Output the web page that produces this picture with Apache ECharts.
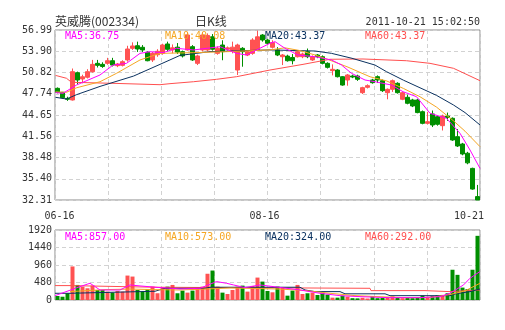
<!DOCTYPE html>
<html><head><meta charset="utf-8">
<script src="https://cdn.jsdelivr.net/npm/echarts@6/dist/echarts.min.js"></script>
<style>html,body{margin:0;padding:0;background:#fff}#c{width:505px;height:330px}</style>
</head><body><div id="c"></div><script>
const dates = ['06-16','06-17','06-20','06-21','06-22','06-23','06-24','06-27','06-28','06-29','06-30',
'07-04','07-05','07-06','07-07','07-08','07-11','07-12','07-13','07-14','07-15','07-18','07-19','07-20','07-21','07-22','07-25','07-26','07-27','07-28','07-29',
'08-01','08-02','08-03','08-04','08-05','08-08','08-09','08-10','08-11','08-12','08-15','08-16','08-17','08-18','08-19','08-22','08-23','08-24','08-25','08-26','08-29','08-30','08-31',
'09-01','09-02','09-05','09-06','09-07','09-08','09-09','09-13','09-14','09-15','09-16','09-19','09-20','09-21','09-22','09-23','09-26','09-27','09-28','09-29','09-30',
'10-10','10-11','10-12','10-13','10-14','10-17','10-18','10-19','10-20','10-21'];
const opens  = [48.52,47.94,47.06,46.83,50.79,49.88,50.13,50.94,52.15,52.00,52.15,52.53,51.81,51.86,52.64,54.33,54.71,54.48,53.75,52.64,53.40,53.60,54.96,54.10,54.50,53.84,54.09,54.57,52.15,54.09,54.09,56.00,53.60,54.81,54.20,53.90,51.18,54.33,53.36,53.60,54.09,56.26,55.54,54.48,54.09,53.11,53.20,53.00,53.11,53.11,53.84,52.64,53.36,53.11,52.15,51.09,51.18,50.21,49.73,50.31,50.31,47.89,48.67,49.73,50.21,49.63,47.89,48.38,49.25,46.93,47.22,46.83,46.83,45.13,43.44,44.80,44.40,43.10,44.50,44.17,41.50,40.44,39.10,36.90,32.80];
const closes = [47.94,47.16,46.93,50.94,49.73,50.20,50.94,52.00,51.86,51.70,52.53,51.90,52.05,52.39,54.23,54.67,54.23,54.09,52.53,53.60,53.90,54.81,54.19,54.40,53.78,53.22,56.26,52.64,53.22,56.26,56.20,54.20,54.33,53.84,54.40,54.50,54.81,53.84,53.84,55.54,56.00,55.54,55.06,55.16,53.36,53.36,52.53,52.53,53.84,53.50,53.11,53.11,53.11,52.15,51.57,51.28,50.21,49.00,50.46,50.16,49.83,48.62,48.91,49.34,49.73,48.18,48.38,49.63,47.89,47.89,46.35,45.96,45.00,43.44,43.68,43.20,43.30,44.50,44.30,41.02,40.15,38.99,37.70,33.90,32.31];
const highs  = [48.65,48.00,47.30,51.40,50.95,50.50,51.30,52.65,52.65,52.30,52.95,52.95,52.20,52.60,54.70,55.20,55.30,54.80,53.90,53.80,54.20,55.00,55.30,54.90,55.10,54.00,56.70,54.80,53.40,56.70,56.50,56.40,54.60,55.50,54.60,55.30,55.00,54.50,54.00,55.80,56.90,56.40,55.70,55.50,54.50,53.50,53.40,53.50,54.00,53.70,54.30,53.30,53.50,53.30,52.30,52.00,51.30,50.30,50.60,50.50,50.50,48.75,49.10,49.90,50.40,49.80,48.50,49.80,49.40,48.00,47.60,47.00,47.00,45.30,45.10,45.30,44.60,44.70,45.00,44.30,42.60,40.60,39.30,37.00,34.50];
const lows   = [47.80,47.05,46.70,46.75,49.10,49.25,49.95,50.80,51.55,51.50,51.95,51.70,51.60,51.70,52.40,54.10,53.80,53.80,52.45,52.35,53.10,53.40,53.90,53.60,53.50,53.00,54.00,52.50,51.90,53.90,53.90,54.00,53.40,52.60,54.00,53.60,50.46,51.66,53.20,53.40,53.90,55.30,54.90,54.30,53.20,51.90,52.40,52.00,53.00,52.90,52.90,52.50,52.90,52.00,51.40,50.40,50.10,48.90,48.90,50.00,49.60,47.70,48.50,49.20,49.30,48.00,46.93,48.00,47.75,46.80,46.20,45.80,44.90,43.30,43.30,42.90,43.10,42.40,43.80,40.90,40.00,38.80,37.50,33.80,32.31];
const volumes = [110,90,185,920,413,367,321,395,275,275,230,202,248,230,670,643,275,230,295,367,185,340,367,413,185,257,202,257,340,367,720,808,367,202,165,275,367,395,230,386,615,505,248,211,367,340,119,257,413,165,185,202,138,202,147,64,64,119,92,50,45,60,40,100,50,55,60,100,55,50,55,50,60,120,90,110,130,140,185,830,690,340,300,830,1760];

// moving-average lines: [position in candle units, value]
const ma5  = [[0.1,47.9],[1.6,47.8],[4.3,49.0],[9,50.46],[11.6,51.9],[14.3,52.15],[17,53.6],[19,53.84],[21.6,53.7],[24.3,54.33],[27.7,54.09],[33,54.57],[36.3,53.6],[38.3,53.36],[40.3,54.09],[43,55.06],[44,55.3],[46,54.33],[48.6,53.36],[52,53.11],[55.3,52.64],[57.3,51.91],[59.3,50.7],[62,49.73],[64,49.48],[67.3,49.0],[69.6,48.03],[72.3,47.31],[75,44.9],[78.3,44.17],[81,41.99],[83,39.57],[85,36.9]];
const ma10 = [[0.1,48.0],[2.3,47.95],[4.3,48.6],[9,49.48],[12.3,50.7],[17,52.64],[21,53.6],[27.7,53.7],[34.3,53.84],[43,54.1],[46,54.4],[49,54.0],[52,53.36],[55,52.6],[58.6,51.6],[63,50.2],[66.3,49.6],[69.7,48.5],[73,47.3],[76.3,45.8],[79.7,43.8],[82,42.3],[85,40.05]];
const ma20 = [[0.1,47.22],[2.3,46.97],[4.3,47.6],[9,48.8],[15.7,50.3],[21,52.0],[25,53.3],[31,53.85],[43,54.1],[52,53.94],[55.3,53.6],[59.4,52.88],[64,51.9],[66.3,50.94],[69.7,49.7],[73,48.6],[76.3,47.5],[79.7,46.1],[82,45.0],[85,43.2]];
const ma60 = [[0.1,50.4],[2.3,49.98],[3.3,49.4],[11.6,49.25],[12,49.05],[21,49.05],[23,49.2],[27.7,49.48],[32.3,49.83],[36.3,50.21],[43,51.18],[49.6,52.0],[55,52.74],[61.6,52.78],[70.3,52.53],[75,52.15],[79.7,51.43],[85,49.63]];
const vma5  = [[0,119],[5,367],[7,459],[9,275],[13,275],[15,413],[17,386],[21,340],[25,303],[29,321],[32.3,505],[34.3,459],[35.7,413],[38,340],[41,413],[49,275],[53,184],[57,119],[61,92],[67,64],[73,64],[77,92],[79,184],[81.7,413],[83,597],[85,781]];
const vma10 = [[3,230],[10,285],[15,300],[20,285],[25,275],[30,300],[35,330],[39,320],[45,300],[50,260],[55,184],[60,120],[65,90],[70,64],[75,70],[79,150],[82,250],[85,459]];
const vma20 = [[0,184],[3,184],[3.2,235],[20,240],[22,321],[30,321],[31,350],[49,350],[50,275],[52,230],[57,230],[58,170],[66,170],[67,119],[79,119],[80,165],[83,230],[85,303]];
const vma60 = [[0,395],[3,395],[3.2,350],[20,350],[20.2,321],[63,321],[63.2,257],[74,257],[74.2,230],[79,230],[85,275]];

const yTickLabels = ['32.31','35.40','38.48','41.56','44.65','47.74','50.82','53.90','56.99'];
const volTickLabels = ['0','480','960','1440','1920'];
const xTickLabels = ['06-16','08-16','10-21'];
const titleText = '英威腾(002334)';
const periodText = '日K线';
const timeText = '2011-10-21 15:02:50';
const priceLegend = ['MA5:36.75','MA10:40.08','MA20:43.37','MA60:43.37'];
const volLegend = ['MA5:857.00','MA10:573.00','MA20:324.00','MA60:292.00'];

const UP = '#ff5252', DOWN = '#008f00';
const C5 = '#ff00ff', C10 = '#f5a623', C20 = '#0b3260', C60 = '#ff4f4f';
const MONO = "'DejaVu Sans Mono', monospace";
const GRID_C = '#d2d2d2';
const candles = opens.map((o,i)=>[o, closes[i], lows[i], highs[i]]);
const yMin = 32.31, yMax = 56.99, yStep = (yMax - yMin)/8;

const chart = echarts.init(document.getElementById('c'), null, {renderer:'canvas'});
const splitX = {show:true, lineStyle:{color:GRID_C, type:[4,3], width:1}};
const labelStyle = {color:'#333', fontFamily:MONO, fontSize:10};
const legendColors = [C5, C10, C20, C60];
const graphics = [
  {type:'text', x:55, y:21, style:{text:titleText, fill:'#333', font:"12px 'Noto Sans CJK SC', sans-serif", verticalAlign:'middle'}},
  {type:'text', x:195, y:21, style:{text:periodText, fill:'#333', font:"12px 'Noto Sans CJK SC', sans-serif", verticalAlign:'middle'}},
  {type:'text', x:480, y:22, style:{text:timeText, fill:'#333', font:"10px 'DejaVu Sans Mono', monospace", align:'right', verticalAlign:'middle'}}
];
priceLegend.forEach((t,k)=>graphics.push({type:'text', x:65+100*k, y:36.5, z:100, style:{text:t, fill:legendColors[k], font:"10px 'DejaVu Sans Mono', monospace", verticalAlign:'middle'}}));
volLegend.forEach((t,k)=>graphics.push({type:'text', x:65+100*k, y:237, z:100, style:{text:t, fill:legendColors[k], font:"10px 'DejaVu Sans Mono', monospace", verticalAlign:'middle'}}));

function maLine(data, color, xi, yi){
  return {type:'line', data, xAxisIndex:xi, yAxisIndex:yi, showSymbol:false, symbol:'none', silent:true,
    lineStyle:{color, width:1}, z:5, animation:false};
}

chart.setOption({
  animation:false,
  backgroundColor:'#fff',
  grid:[
    {left:55, top:30, width:425, height:170, show:true, borderColor:'#8a8a8a', borderWidth:1, backgroundColor:'transparent'},
    {left:55, top:230, width:425, height:70, show:true, borderColor:'#8a8a8a', borderWidth:1, backgroundColor:'transparent'}
  ],
  xAxis:[
    {type:'category', gridIndex:0, data:dates, boundaryGap:true,
      axisLine:{show:false}, axisTick:{show:false}, splitLine:{show:false},
      axisLabel:{show:true, margin:11, ...labelStyle,
        interval:(i,v)=>xTickLabels.includes(v),
        formatter:(v)=>{const k=xTickLabels.indexOf(v); return k===0?'{a|'+v+'}':k===1?'{b|'+v+'}':'{c|'+v+'}';},
        rich:{a:{padding:[0,0,0,4],...labelStyle}, b:{padding:[0,6,0,0],...labelStyle}, c:{padding:[0,17,0,0],...labelStyle}}}},
    {type:'value', gridIndex:0, min:0, max:85, interval:85/8, axisLine:{show:false}, axisTick:{show:false}, axisLabel:{show:false}, splitLine:splitX},
    {type:'category', gridIndex:1, data:dates, boundaryGap:true, axisLine:{show:false}, axisTick:{show:false}, axisLabel:{show:false}, splitLine:{show:false}},
    {type:'value', gridIndex:1, min:0, max:85, interval:85/8, axisLine:{show:false}, axisTick:{show:false}, axisLabel:{show:false}, splitLine:splitX}
  ],
  yAxis:[
    {type:'value', gridIndex:0, min:yMin, max:yMax, interval:yStep, axisLine:{show:false}, axisTick:{show:false},
      axisLabel:{...labelStyle, margin:3, formatter:(v)=>yTickLabels[Math.round((v-yMin)/yStep)]},
      splitLine:{show:true, lineStyle:{color:GRID_C, type:[4,3]}}},
    {type:'value', gridIndex:1, min:0, max:1920, interval:480, axisLine:{show:false}, axisTick:{show:false},
      axisLabel:{...labelStyle, margin:3, formatter:(v)=>volTickLabels[Math.round(v/480)]},
      splitLine:{show:true, lineStyle:{color:GRID_C, type:[4,3]}}}
  ],
  series:[
    {type:'candlestick', xAxisIndex:0, yAxisIndex:0, data:candles, barWidth:4, z:3,
      itemStyle:{color:UP, color0:DOWN, borderColor:UP, borderColor0:DOWN, borderWidth:1}},
    maLine(ma60, C60, 1, 0), maLine(ma20, C20, 1, 0), maLine(ma10, C10, 1, 0), maLine(ma5, C5, 1, 0),
    {type:'bar', xAxisIndex:2, yAxisIndex:1, data:volumes.map((v,i)=>({value:v, itemStyle:{color: closes[i]>=opens[i]?UP:DOWN}})), barWidth:4, z:3},
    maLine(vma60, C60, 3, 1), maLine(vma20, C20, 3, 1), maLine(vma10, C10, 3, 1), maLine(vma5, C5, 3, 1)
  ],
  graphic:graphics
});
</script></body></html>
